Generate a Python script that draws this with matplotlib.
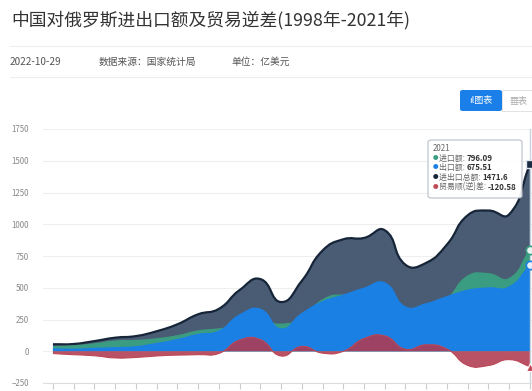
import numpy as np
import matplotlib.pyplot as plt
from matplotlib.path import Path
from matplotlib.patches import PathPatch, FancyBboxPatch

plt.rcParams['font.family'] = ['Noto Sans CJK SC', 'DejaVu Sans']

years = list(range(1998, 2022))
imports = [36.4, 42.2, 57.7, 79.6, 84.1, 97.3, 121.3, 158.9, 175.5, 196.8, 238.3, 212.3,
           258.4, 403.7, 441.0, 396.2, 415.9, 332.6, 322.6, 411.7, 590.8, 610.1, 571.8, 796.09]
exports = [18.4, 15.0, 22.3, 27.1, 35.2, 60.3, 91.0, 132.1, 158.3, 284.9, 330.0, 175.1,
           296.1, 389.0, 440.6, 495.9, 536.8, 348.1, 373.4, 429.0, 479.7, 497.9, 505.8, 675.51]
totals = [54.8, 57.2, 80.0, 106.7, 119.3, 157.6, 212.3, 291.0, 333.9, 481.7, 568.3, 387.5,
          554.5, 792.7, 881.6, 892.1, 952.7, 680.7, 696.2, 840.7, 1070.6, 1107.9, 1077.7, 1471.6]
balance = [e - i for e, i in zip(exports, imports)]
balance[-1] = -120.58

# px per unit, used only for the smoothing ratio (like echarts)
SX, SY = 20.74, 0.127


def smooth_path(xs, ys, smooth=0.5):
    pts = [(x * SX, y * SY) for x, y in zip(xs, ys)]
    n = len(pts)
    cps = []
    for i in range(n):
        px, py = pts[i - 1] if i > 0 else pts[i]
        nx, ny = pts[i + 1] if i < n - 1 else pts[i]
        x, y = pts[i]
        vx, vy = nx - px, ny - py
        l0 = np.hypot(x - px, y - py)
        l1 = np.hypot(nx - x, ny - y)
        r = l1 / (l0 + l1) if (l0 + l1) > 0 else 0.5
        c0 = (x - vx * smooth * (1 - r), y - vy * smooth * (1 - r))
        c1 = (x + vx * smooth * r, y + vy * smooth * r)
        cps.append((c0, c1))
    verts = [pts[0]]
    codes = [Path.MOVETO]
    for i in range(n - 1):
        verts += [cps[i][1], cps[i + 1][0], pts[i + 1]]
        codes += [Path.CURVE4] * 3
    verts = [(vx / SX, vy / SY) for vx, vy in verts]
    return verts, codes


def draw_area(ax, xs, ys, fc, lc, alpha=1.0, lw=1.0, z=1):
    verts, codes = smooth_path(xs, ys)
    area = verts + [(xs[-1], 0), (xs[0], 0), (xs[0], 0)]
    acodes = codes + [Path.LINETO, Path.LINETO, Path.CLOSEPOLY]
    ax.add_patch(PathPatch(Path(area, acodes), facecolor=fc, edgecolor='none',
                           alpha=alpha, zorder=z))
    ax.add_patch(PathPatch(Path(verts, codes), facecolor='none', edgecolor=lc,
                           lw=lw, zorder=z + 0.5))


fig = plt.figure(figsize=(5.32, 3.91), dpi=100)
fig.patch.set_facecolor('white')

fig.text(11 / 532, 1 - 20 / 391, '中国对俄罗斯进出口额及贸易逆差(1998年-2021年)',
         fontsize=12.8, color='#333333', va='center', ha='left')
fig.add_artist(plt.Line2D([10 / 532, 1], [1 - 46 / 391] * 2, color='#eeeeee', lw=0.8))
fig.add_artist(plt.Line2D([10 / 532, 1], [1 - 77 / 391] * 2, color='#eeeeee', lw=0.8))
meta_y = 1 - 62 / 391
fig.text(10 / 532, meta_y, '2022-10-29', fontsize=7.2, color='#555555', va='center')
fig.text(99 / 532, meta_y, '数据来源：国家统计局', fontsize=7, color='#555555', va='center')
fig.text(231 / 532, meta_y, '单位：亿美元', fontsize=7, color='#555555', va='center')

# buttons
fig.add_artist(FancyBboxPatch((460 / 532, 1 - 111 / 391), 42 / 532, 21 / 391,
                              boxstyle='round,pad=0,rounding_size=0.005',
                              fc='#1a7fe8', ec='none', transform=fig.transFigure))
fig.text(481 / 532, 1 - 100.5 / 391, 'ıl图表', fontsize=6.5, color='white',
         ha='center', va='center')
fig.add_artist(FancyBboxPatch((502 / 532, 1 - 111 / 391), 40 / 532, 21 / 391,
                              boxstyle='square,pad=0', fc='white', ec='#dddddd',
                              lw=0.6, transform=fig.transFigure))
fig.text(509 / 532, 1 - 100.5 / 391, '▦表', fontsize=6.5, color='#aaaaaa',
         ha='left', va='center')

ax = fig.add_axes([43 / 532, 8 / 391, 489 / 532, 254 / 391])
ax.set_xlim(1997.52, 2021.1)
ax.set_ylim(-250, 1750)
ax.set_yticks(range(-250, 1751, 250))
ax.tick_params(axis='y', length=0, labelsize=5.7, labelcolor='#888888', pad=10)
ax.set_xticks(years)
ax.tick_params(axis='x', length=4, color='#cccccc', labelbottom=False)
for s in ['top', 'right', 'left']:
    ax.spines[s].set_visible(False)
ax.spines['bottom'].set_color('#dddddd')
ax.grid(axis='y', color='#eeeeee', lw=0.8)
ax.set_axisbelow(True)

draw_area(ax, years, totals, '#4a5c74', '#162538', lw=1.6, z=2)
draw_area(ax, years, imports, '#3a9c80', '#3a9c80', lw=1.0, z=3)
draw_area(ax, years, exports, '#1a80e4', '#1a80e4', lw=1.0, z=4)
draw_area(ax, years, balance, '#b03a50', '#bc4656', alpha=0.88, lw=0.8, z=5)

ax.axvline(2021, color='#c8d4e0', lw=1, zorder=6)
ax.plot(years[-1], totals[-1], 's', ms=6, mfc='#1b2b42', mec='#dfe6ee', mew=1, zorder=8, clip_on=False)
ax.plot(years[-1], imports[-1], 'o', ms=6, mfc='#e8f4ef', mec='#3a9c80', mew=1.2, zorder=8, clip_on=False)
ax.plot(years[-1], exports[-1], 'o', ms=6, mfc='#e6f0fb', mec='#1a80e4', mew=1.2, zorder=8, clip_on=False)
ax.plot(years[-1], balance[-1], '^', ms=6, mfc='#c04a58', mec='white', mew=0.8, zorder=8, clip_on=False)

# tooltip
fig.add_artist(FancyBboxPatch((428 / 532, 1 - 198 / 391), 94 / 532, 58 / 391,
                              boxstyle='round,pad=0,rounding_size=0.006',
                              fc=(1, 1, 1, 0.92), ec='#b8c0c8', lw=0.8,
                              transform=fig.transFigure, zorder=10))
fig.text(433 / 532, 1 - 148 / 391, str(years[-1]), fontsize=5.7, color='#666666',
         va='center', zorder=11)
rows = [('进口额', imports[-1], '#3a9c80'), ('出口额', exports[-1], '#1a80e4'),
        ('进出口总额', totals[-1], '#162538'), ('贸易顺(逆)差', balance[-1], '#c04a58')]
for k, (name, val, c) in enumerate(rows):
    yy = 1 - (158 + k * 9.7) / 391
    fig.text(433 / 532, yy, '●', fontsize=4, color=c, va='center', zorder=11)
    t = fig.text(439 / 532, yy, name + ': ', fontsize=5.7, color='#666666', va='center', zorder=11)
    fig.canvas.draw()
    bb = t.get_window_extent()
    fig.text(bb.x1 / 532, yy, f'{val:g}', fontsize=5.7, color='#333333',
             fontweight='bold', va='center', zorder=11)

fig.savefig('out.png', dpi=100)
